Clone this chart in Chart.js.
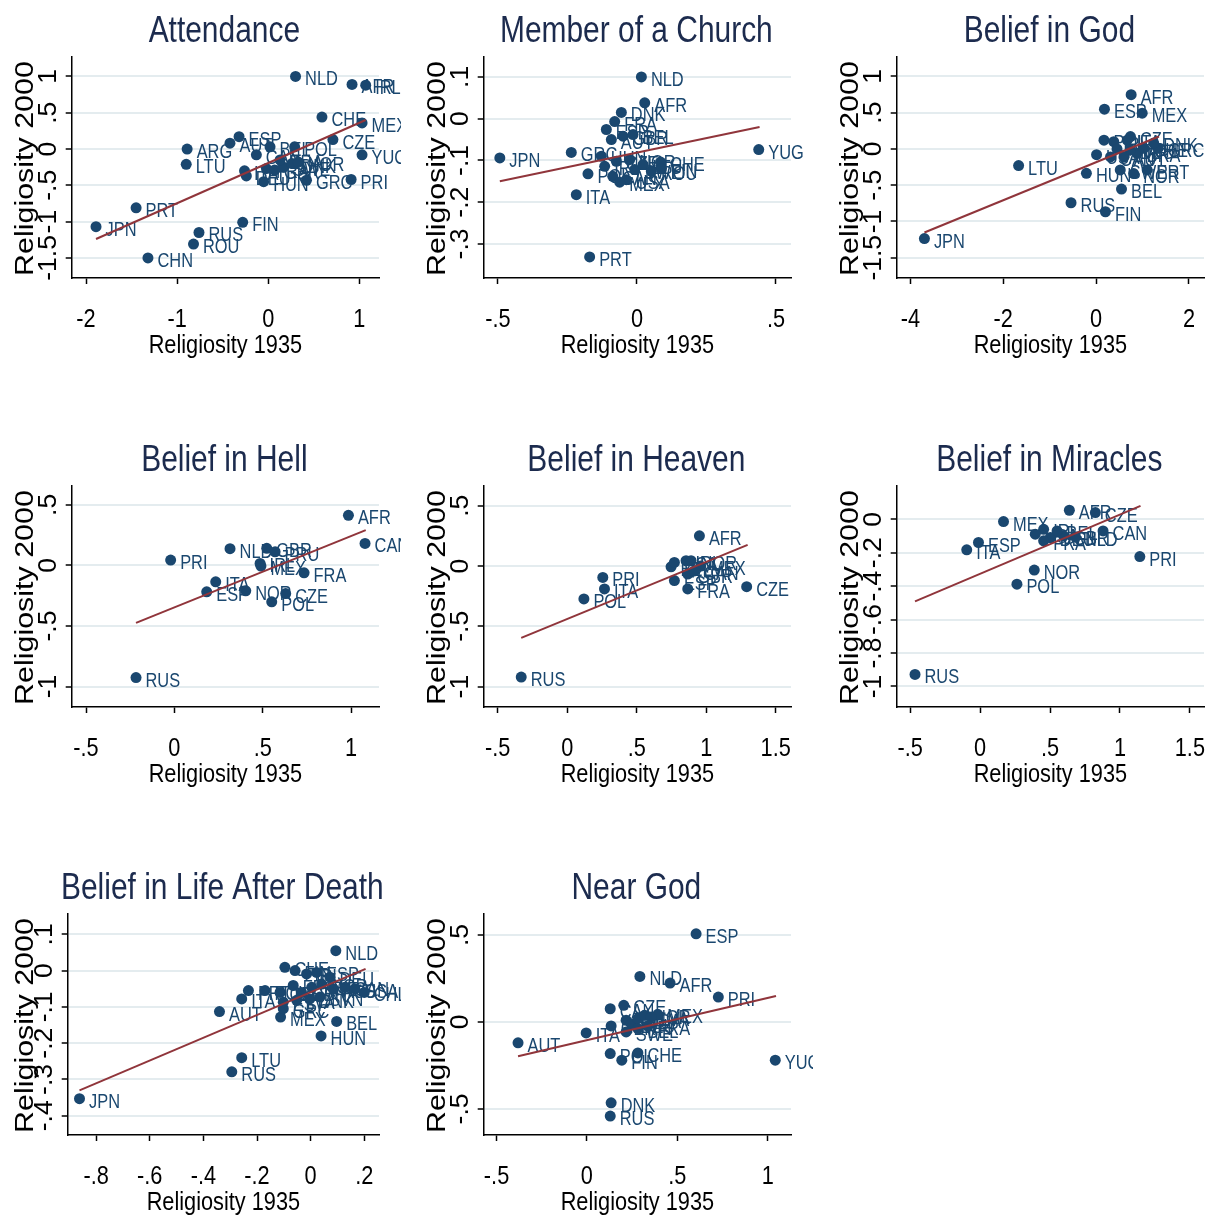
<!DOCTYPE html>
<html>
<head>
<meta charset="utf-8">
<script src="https://cdn.jsdelivr.net/npm/chart.js@4.4.1/dist/chart.umd.min.js"></script>
<style>
  html, body { margin: 0; padding: 0; background: #fff; width: 1215px; height: 1220px; overflow: hidden; }
  .panel { position: absolute; }
</style>
</head>
<body>
<div id="board"></div>
<script>
// ---- data ----
const attendanceNames = ['NLD','AFR','IRL','CHE','MEX','CZE','ESP','AUT','ARG','LTU','POL','YUG','PRI','GRC','HUN','CAN','ITA','DEU','BEL','FRA','GBR','SWE','DNK','NOR','BRA','PRT','JPN','FIN','RUS','ROU','CHN'];
const attendanceX = [0.30, 0.92, 1.07, 0.59, 1.03, 0.71, -0.32, -0.42, -0.89, -0.90, 0.29, 1.03, 0.91, 0.42, -0.05, -0.13, -0.26, -0.24, 0.02, -0.02, 0.07, 0.17, 0.26, 0.33, 0.13, -1.45, -1.89, -0.28, -0.76, -0.82, -1.32];
const attendanceY = [1.00, 0.89, 0.88, 0.44, 0.36, 0.13, 0.17, 0.08, 0.00, -0.21, 0.03, -0.08, -0.42, -0.43, -0.45, -0.08, -0.30, -0.37, 0.03, -0.27, -0.29, -0.25, -0.20, -0.18, -0.15, -0.81, -1.07, -1.01, -1.15, -1.31, -1.50];
const attendanceFitX = [-1.89, 1.07];
const attendanceFitY = [-1.24, 0.40];
const attendanceXTicks = [-2, -1, 0, 1];
const attendanceYTicks = [-1.5, -1, -0.5, 0, 0.5, 1];
const attendanceXRange = [-2.157, 1.216];
const attendanceYRange = [-1.777, 1.268];

const memberNames = ['NLD','AFR','DNK','FRA','ESP','AUT','GBR','BEL','JPN','GRC','YUG','HUN','POL','IRL','CZE','NOR','SWE','LTU','ROU','CHE','FIN','CAN','USA','MEX','ITA','PRT'];
const memberX = [0.016, 0.028, -0.056, -0.080, -0.110, -0.092, -0.050, -0.014, -0.493, -0.236, 0.438, -0.128, -0.176, -0.116, -0.074, -0.026, -0.008, 0.022, 0.052, 0.085, 0.088, -0.087, -0.038, -0.062, -0.218, -0.170];
const memberY = [0.100, 0.038, 0.015, -0.007, -0.026, -0.050, -0.042, -0.038, -0.094, -0.081, -0.074, -0.090, -0.132, -0.114, -0.102, -0.098, -0.122, -0.110, -0.126, -0.104, -0.120, -0.138, -0.146, -0.152, -0.182, -0.331];
const memberFitX = [-0.493, 0.441];
const memberFitY = [-0.150, -0.020];
const memberXTicks = [-0.5, 0, 0.5];
const memberYTicks = [-0.3, -0.2, -0.1, 0, 0.1];
const memberXRange = [-0.551, 0.554];
const memberYRange = [-0.3815, 0.1476];

const godNames = ['AFR','ESP','MEX','CZE','POL','GRC','IRL','ITA','DNK','AUT','BRA','CAN','USA','CHE','DEU','FRA','LTU','HUN','NOR','PRT','SWE','BEL','RUS','FIN','JPN'];
const godX = [0.755, 0.18, 0.993, 0.74, 0.17, 1.34, 0.38, 0.67, 1.24, 0.60, 0.885, 0.31, 0.01, 1.03, 0.74, 0.45, -1.669, -0.209, 0.81, 1.10, 0.52, 0.547, -0.54, 0.201, -3.698];
const godY = [0.747, 0.548, 0.493, 0.17, 0.12, 0.01, 0.10, 0.12, 0.08, -0.11, -0.06, -0.11, -0.08, 0.01, -0.01, 0.0, -0.23, -0.336, -0.34, -0.29, -0.29, -0.553, -0.742, -0.866, -1.235];
const godFitX = [-3.698, 1.353];
const godFitY = [-1.152, 0.171];
const godXTicks = [-4, -2, 0, 2];
const godYTicks = [-1.5, -1, -0.5, 0, 0.5, 1];
const godXRange = [-4.295, 2.324];
const godYRange = [-1.779, 1.267];

const hellNames = ['AFR','CAN','PRI','NLD','GBR','PRU','IRL','MEX','FRA','ITA','ESP','NOR','CZE','POL','RUS'];
const hellX = [0.985, 1.079, -0.021, 0.315, 0.523, 0.570, 0.485, 0.49, 0.734, 0.234, 0.183, 0.404, 0.630, 0.551, -0.217];
const hellY = [0.414, 0.182, 0.044, 0.138, 0.141, 0.113, 0.017, -0.005, -0.061, -0.135, -0.218, -0.210, -0.232, -0.30, -0.926];
const hellFitX = [-0.217, 1.083];
const hellFitY = [-0.474, 0.292];
const hellXTicks = [-0.5, 0, 0.5, 1];
const hellYTicks = [-1, -0.5, 0, 0.5];
const hellXRange = [-0.581, 1.158];
const hellYRange = [-1.169, 0.656];

const heavenNames = ['AFR','PRI','ITA','POL','CZE','FRA','BEL','USA','IRL','NOR','MEX','ESP','GBR','CAN','RUS'];
const heavenX = [0.951, 0.256, 0.268, 0.12, 1.291, 0.867, 0.747, 0.771, 0.855, 0.891, 0.96, 0.771, 0.867, 0.915, -0.331];
const heavenY = [0.251, -0.094, -0.19, -0.273, -0.171, -0.19, -0.006, 0.03, 0.044, 0.044, 0.0, -0.12, -0.066, -0.04, -0.921];
const heavenFitX = [-0.331, 1.298];
const heavenFitY = [-0.596, 0.176];
const heavenXTicks = [-0.5, 0, 0.5, 1, 1.5];
const heavenYTicks = [-1, -0.5, 0, 0.5];
const heavenXRange = [-0.601, 1.61];
const heavenYRange = [-1.169, 0.664];

const miraclesNames = ['AFR','CZE','MEX','CAN','IRL','USA','DEU','GBR','NLD','BEL','FRA','ESP','ITA','PRI','NOR','POL','RUS'];
const miraclesX = [0.638, 0.824, 0.167, 0.879, 0.454, 0.394, 0.502, 0.597, 0.681, 0.550, 0.454, -0.012, -0.096, 1.142, 0.387, 0.263, -0.466];
const miraclesY = [0.054, 0.040, -0.014, -0.070, -0.060, -0.089, -0.109, -0.099, -0.105, -0.070, -0.129, -0.139, -0.183, -0.223, -0.304, -0.388, -0.928];
const miraclesFitX = [-0.466, 1.147];
const miraclesFitY = [-0.491, 0.080];
const miraclesXTicks = [-0.5, 0, 0.5, 1, 1.5];
const miraclesYTicks = [-1, -0.8, -0.6, -0.4, -0.2, 0];
const miraclesXRange = [-0.597, 1.601];
const miraclesYRange = [-1.123, 0.199];

const afterlifeNames = ['NLD','CHE','FIN','IRL','ESP','DEU','PRT','ITA','POL','CZE','FRA','GBR','SWE','NOR','AUS','CAN','USA','CHL','BEL','DNK','AUT','MEX','GRC','SVN','LVA','EST','HUN','LTU','RUS','JPN'];
const afterlifeX = [0.094, -0.096, -0.058, -0.015, 0.022, 0.072, -0.232, -0.257, -0.17, -0.114, -0.065, -0.034, 0.004, 0.041, 0.084, 0.128, 0.165, 0.20, 0.097, -0.003, -0.340, -0.112, -0.102, 0.035, -0.052, -0.102, 0.039, -0.257, -0.294, -0.862];
const afterlifeY = [0.055, 0.009, 0.0, -0.009, -0.005, -0.018, -0.055, -0.078, -0.055, -0.06, -0.041, -0.06, -0.046, -0.037, -0.050, -0.046, -0.050, -0.06, -0.140, -0.078, -0.113, -0.128, -0.105, -0.073, -0.082, -0.087, -0.180, -0.240, -0.279, -0.353];
const afterlifeFitX = [-0.862, 0.205];
const afterlifeFitY = [-0.330, 0.005];
const afterlifeXTicks = [-0.8, -0.6, -0.4, -0.2, 0, 0.2];
const afterlifeYTicks = [-0.4, -0.3, -0.2, -0.1, 0, 0.1];
const afterlifeXRange = [-0.906, 0.255];
const afterlifeYRange = [-0.453, 0.156];

const nearNames = ['ESP','NLD','AFR','PRI','CZE','CAN','ITA','AUT','GBR','IRL','DEU','USA','NOR','MEX','LVA','FRA','SWE','BEL','POL','CHE','FIN','YUG','DNK','RUS'];
const nearX = [0.604, 0.293, 0.460, 0.727, 0.204, 0.129, -0.004, -0.381, 0.134, 0.217, 0.245, 0.282, 0.319, 0.392, 0.355, 0.337, 0.217, 0.282, 0.129, 0.282, 0.193, 1.042, 0.134, 0.129];
const nearY = [0.507, 0.262, 0.224, 0.143, 0.096, 0.076, -0.063, -0.120, -0.023, 0.010, -0.010, 0.019, 0.038, 0.044, 0.029, -0.023, -0.057, -0.038, -0.182, -0.178, -0.220, -0.220, -0.465, -0.541];
const nearFitX = [-0.381, 1.046];
const nearFitY = [-0.197, 0.149];
const nearXTicks = [-0.5, 0, 0.5, 1];
const nearYTicks = [-0.5, 0, 0.5];
const nearXRange = [-0.571, 1.129];
const nearYRange = [-0.650, 0.621];

const xTitle = 'Religiosity 1935';
const yTitle = 'Religiosity 2000';

// ---- look ----
const NAVY = '#1a476f';
const MAROON = '#90353b';
const GRID = '#e4ecef';
const TITLE_COLOR = '#1c2b4e';
const FONT = '"Liberation Sans", Arial, sans-serif';
const SQUEEZE = 0.82;   // horizontal text looks like Arial Narrow
const W = 401, H = 428;
const TICK_LEN = 6;

const panels = [
  { title: 'Attendance', names: attendanceNames, x: attendanceX, y: attendanceY, fitX: attendanceFitX, fitY: attendanceFitY, xTicks: attendanceXTicks, yTicks: attendanceYTicks, xRange: attendanceXRange, yRange: attendanceYRange },
  { title: 'Member of a Church', names: memberNames, x: memberX, y: memberY, fitX: memberFitX, fitY: memberFitY, xTicks: memberXTicks, yTicks: memberYTicks, xRange: memberXRange, yRange: memberYRange },
  { title: 'Belief in God', names: godNames, x: godX, y: godY, fitX: godFitX, fitY: godFitY, xTicks: godXTicks, yTicks: godYTicks, xRange: godXRange, yRange: godYRange },
  { title: 'Belief in Hell', names: hellNames, x: hellX, y: hellY, fitX: hellFitX, fitY: hellFitY, xTicks: hellXTicks, yTicks: hellYTicks, xRange: hellXRange, yRange: hellYRange },
  { title: 'Belief in Heaven', names: heavenNames, x: heavenX, y: heavenY, fitX: heavenFitX, fitY: heavenFitY, xTicks: heavenXTicks, yTicks: heavenYTicks, xRange: heavenXRange, yRange: heavenYRange },
  { title: 'Belief in Miracles', names: miraclesNames, x: miraclesX, y: miraclesY, fitX: miraclesFitX, fitY: miraclesFitY, xTicks: miraclesXTicks, yTicks: miraclesYTicks, xRange: miraclesXRange, yRange: miraclesYRange },
  { title: 'Belief in Life After Death', names: afterlifeNames, x: afterlifeX, y: afterlifeY, fitX: afterlifeFitX, fitY: afterlifeFitY, xTicks: afterlifeXTicks, yTicks: afterlifeYTicks, xRange: afterlifeXRange, yRange: afterlifeYRange, left: 67.7 },
  { title: 'Near God', names: nearNames, x: nearX, y: nearY, fitX: nearFitX, fitY: nearFitY, xTicks: nearXTicks, yTicks: nearYTicks, xRange: nearXRange, yRange: nearYRange }
];

function fmt(v) {
  return String(v).replace(/^(-?)0\./, '$1.');
}

// draw text with a horizontal stretch factor (along the text direction)
function text(ctx, str, x, y, size, color, align, rot, stretch) {
  ctx.save();
  ctx.translate(x, y);
  if (rot) ctx.rotate(rot);
  ctx.scale(stretch || SQUEEZE, 1);
  ctx.font = size + 'px ' + FONT;
  ctx.fillStyle = color;
  ctx.textAlign = align;
  ctx.textBaseline = 'alphabetic';
  ctx.fillText(str, 0, 0);
  ctx.restore();
}

const stataDecor = {
  id: 'stataDecor',
  // marker labels go under the markers and under the fit line
  beforeDatasetDraw(chart, args) {
    if (args.index !== 1) return;
    const names = chart.options.plugins.stataDecor.names;
    const ctx = chart.ctx;
    args.meta.data.forEach((pt, i) => {
      text(ctx, names[i], pt.x + 9.5, pt.y + 9, 20, NAVY, 'left');
    });
  },
  afterDraw(chart) {
    const o = chart.options.plugins.stataDecor;
    const ctx = chart.ctx;
    const area = chart.chartArea;
    const xs = chart.scales.x, ys = chart.scales.y;
    o.xTicks.forEach(v => text(ctx, fmt(v), xs.getPixelForValue(v), area.bottom + 49, 26.5, '#000', 'center'));
    o.yTicks.forEach(v => text(ctx, fmt(v), area.left - 16, ys.getPixelForValue(v), 26, '#000', 'center', -Math.PI / 2, 1.02));
    const cx = (area.left + area.right) / 2;
    const cy = (area.top + area.bottom) / 2;
    text(ctx, xTitle, cx, area.bottom + 74.5, 26.5, '#000', 'center');
    text(ctx, yTitle, 33, cy + 1, 26, '#000', 'center', -Math.PI / 2, 1.17);
    text(ctx, o.title, cx - 1, area.top - 15.5, 36.5, TITLE_COLOR, 'center');
  }
};

const board = document.getElementById('board');

panels.forEach((p, k) => {
  const col = k % 3, row = Math.floor(k / 3);
  const div = document.createElement('div');
  div.className = 'panel';
  div.style.left = (col * 412.3) + 'px';
  div.style.top = (row * 428.5) + 'px';
  div.style.width = W + 'px';
  div.style.height = H + 'px';
  const canvas = document.createElement('canvas');
  canvas.width = W;
  canvas.height = H;
  div.appendChild(canvas);
  board.appendChild(div);

  const left = p.left || 71.7;
  const right = 379, top = 57, bottom = 278;

  new Chart(canvas, {
    type: 'scatter',
    data: {
      datasets: [
        {
          data: p.fitX.map((v, i) => ({ x: v, y: p.fitY[i] })),
          showLine: true,
          borderColor: MAROON,
          borderWidth: 2,
          pointRadius: 0,
          fill: false
        },
        {
          data: p.x.map((v, i) => ({ x: v, y: p.y[i] })),
          pointRadius: 5.5,
          pointBackgroundColor: NAVY,
          pointBorderWidth: 0,
          pointHoverRadius: 5.5
        }
      ]
    },
    options: {
      responsive: false,
      animation: false,
      events: [],
      layout: {
        padding: { left: left - TICK_LEN, top: top, right: W - right, bottom: H - bottom - TICK_LEN }
      },
      scales: {
        x: {
          type: 'linear',
          min: p.xRange[0],
          max: p.xRange[1],
          afterBuildTicks: s => { s.ticks = p.xTicks.map(v => ({ value: v })); },
          ticks: { display: false },
          grid: { drawOnChartArea: false, drawTicks: true, tickLength: TICK_LEN, tickColor: '#000', tickWidth: 1.5 },
          border: { color: '#000', width: 1.5 }
        },
        y: {
          type: 'linear',
          min: p.yRange[0],
          max: p.yRange[1],
          afterBuildTicks: s => { s.ticks = p.yTicks.map(v => ({ value: v })); },
          ticks: { display: false },
          grid: { color: GRID, lineWidth: 2, drawTicks: true, tickLength: TICK_LEN, tickColor: '#000', tickWidth: 1.5 },
          border: { color: '#000', width: 1.5 }
        }
      },
      plugins: {
        legend: { display: false },
        tooltip: { enabled: false },
        stataDecor: {
          title: p.title,
          names: p.names,
          xTicks: p.xTicks,
          yTicks: p.yTicks
        }
      }
    },
    plugins: [stataDecor]
  });
});
</script>
</body>
</html>
